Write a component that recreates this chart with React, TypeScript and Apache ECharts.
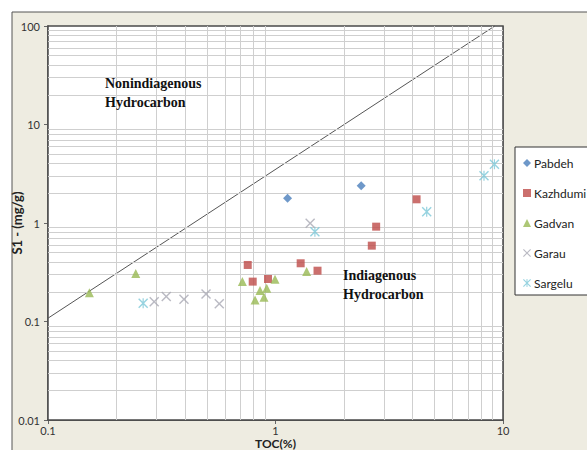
import React, { useEffect, useRef } from "react";
import * as echarts from "echarts";

// TOC (%) vs S1 (mg/g) by formation
const pabdeh: [number, number][] = [
  [1.13, 1.78],
  [2.38, 2.39],
];
const kazhdumi: [number, number][] = [
  [0.755, 0.375],
  [0.794, 0.254],
  [0.927, 0.27],
  [1.29, 0.39],
  [1.53, 0.328],
  [2.65, 0.589],
  [2.77, 0.918],
  [4.17, 1.74],
];
const gadvan: [number, number][] = [
  [0.152, 0.196],
  [0.243, 0.308],
  [0.715, 0.254],
  [0.813, 0.165],
  [0.855, 0.206],
  [0.89, 0.176],
  [0.915, 0.217],
  [0.995, 0.268],
  [1.37, 0.321],
];
const garau: [number, number][] = [
  [0.293, 0.159],
  [0.331, 0.179],
  [0.396, 0.168],
  [0.495, 0.19],
  [0.566, 0.151],
  [1.42, 0.994],
];
const sargelu: [number, number][] = [
  [0.262, 0.153],
  [1.49, 0.817],
  [4.62, 1.3],
  [8.25, 3.02],
  [9.17, 3.95],
];
// dividing line between the two hydrocarbon fields
const boundary: [number, number][] = [
  [0.095, 0.1],
  [9.2, 100],
];

const xRange = [0.1, 10];
const yRange = [0.01, 100];

const crossPath =
  "path://M0,1 L1,0 L5,4 L9,0 L10,1 L6,5 L10,9 L9,10 L5,6 L1,10 L0,9 L4,5 Z";
const starPath =
  "path://M0,1 L1,0 L5,4 L9,0 L10,1 L6,5 L10,9 L9,10 L5,6 L1,10 L0,9 L4,5 Z M4.4,0 L5.6,0 L5.6,10 L4.4,10 Z";

// minor grid positions: 2..9 within each decade
function minorValues(lo: number, hi: number): number[] {
  const out: number[] = [];
  for (let d = lo; d < hi; d *= 10) {
    for (let k = 2; k <= 9; k++) out.push(Number((d * k).toPrecision(3)));
  }
  return out;
}

const tickFont = { fontFamily: "Lato, 'Liberation Sans', sans-serif", fontSize: 11, color: "#333" };

export default function App() {
  const ref = useRef<HTMLDivElement>(null);

  useEffect(() => {
    if (!ref.current) return;
    const chart = echarts.init(ref.current, null, { renderer: "svg" });

    const minorX = minorValues(xRange[0], xRange[1]);
    const minorY = minorValues(yRange[0], yRange[1]);

    chart.setOption({
      animation: false,
      backgroundColor: "#ffffff",
      grid: {
        left: 48,
        top: 26,
        width: 455,
        height: 394,
        containLabel: false,
        outerBoundsMode: "none",
        show: true,
        backgroundColor: "#ffffff",
        borderColor: "#4a4a4a",
        borderWidth: 1.5,
        z: 1,
      },
      graphic: [
        {
          type: "rect",
          z: -10,
          shape: { x: 12, y: 12, width: 600, height: 460 },
          style: { fill: "#EEECE1", stroke: "#555", lineWidth: 1 },
        },
        {
          type: "text",
          z: 100,
          left: 105,
          top: 74,
          style: {
            text: "Nonindiagenous\nHydrocarbon",
            font: "bold 14px 'Liberation Serif', serif",
            fill: "#111",
            lineHeight: 19,
          },
        },
        {
          type: "text",
          z: 100,
          left: 343,
          top: 266,
          style: {
            text: "Indiagenous\nHydrocarbon",
            font: "bold 14px 'Liberation Serif', serif",
            fill: "#111",
            lineHeight: 19,
          },
        },
      ],
      legend: {
        orient: "vertical",
        left: 515,
        top: 147,
        padding: [9, 40, 5, 8],
        itemGap: 16,
        itemWidth: 8,
        itemHeight: 8,
        itemStyle: { borderWidth: 0 },
        backgroundColor: "#ffffff",
        borderColor: "#333",
        borderWidth: 1,
        textStyle: {
          fontFamily: "Lato, 'Liberation Sans', sans-serif",
          fontSize: 12,
          color: "#222",
          lineHeight: 14,
          padding: [0, 0, 0, -2],
        },
        data: [
          { name: "Pabdeh", icon: "diamond" },
          { name: "Kazhdumi", icon: "rect" },
          { name: "Gadvan", icon: "triangle" },
          { name: "Garau", icon: crossPath },
          { name: "Sargelu", icon: starPath },
        ],
      },
      xAxis: {
        type: "log",
        logBase: 10,
        min: xRange[0],
        max: xRange[1],
        name: "TOC(%)",
        nameLocation: "middle",
        nameGap: 17,
        nameMoveOverlap: false,
        nameTextStyle: {
          fontFamily: "Lato, 'Liberation Sans', sans-serif",
          fontSize: 12,
          lineHeight: 12,
          fontWeight: "bold",
          color: "#222",
        },
        axisLine: { show: true, lineStyle: { color: "#4a4a4a", width: 1.5 } },
        axisTick: { show: true, inside: false, length: 4, lineStyle: { color: "#666" } },
        axisLabel: { ...tickFont, margin: 4, lineHeight: 12, formatter: (v: number) => String(v) },
        splitLine: { show: true, lineStyle: { color: "#9a9a9a", width: 1 } },
      },
      yAxis: {
        type: "log",
        logBase: 10,
        min: yRange[0],
        max: yRange[1],
        name: "S1 - (mg/g)",
        nameLocation: "middle",
        nameGap: 25,
        nameMoveOverlap: false,
        nameTextStyle: {
          fontFamily: "Lato, 'Liberation Sans', sans-serif",
          fontSize: 13,
          fontWeight: "bold",
          color: "#222",
        },
        axisLine: { show: true, lineStyle: { color: "#4a4a4a", width: 1.5 } },
        axisTick: { show: true, inside: false, length: 4, lineStyle: { color: "#666" } },
        axisLabel: { ...tickFont, margin: 8, formatter: (v: number) => String(v) },
        splitLine: { show: true, lineStyle: { color: "#9a9a9a", width: 1 } },
      },
      series: [
        {
          name: "minor-grid",
          type: "scatter",
          data: [],
          silent: true,
          z: 1,
          markLine: {
            silent: true,
            symbol: ["none", "none"],
            label: { show: false },
            lineStyle: { color: "#cfcfcf", width: 1, type: "solid" },
            data: [
              ...minorX.map((v) => ({ xAxis: v })),
              ...minorY.map((v) => ({ yAxis: v })),
            ],
          },
        },
        {
          name: "boundary",
          type: "line",
          data: boundary,
          clip: false,
          symbol: "none",
          silent: true,
          z: 2,
          lineStyle: { color: "#555", width: 1 },
        },
        {
          name: "Pabdeh",
          type: "scatter",
          data: pabdeh,
          symbol: "diamond",
          symbolSize: 9,
          z: 5,
          itemStyle: { color: "#4A7EBB" },
        },
        {
          name: "Kazhdumi",
          type: "scatter",
          data: kazhdumi,
          symbol: "rect",
          symbolSize: 8,
          z: 5,
          itemStyle: { color: "#BE4B48" },
        },
        {
          name: "Gadvan",
          type: "scatter",
          data: gadvan,
          symbol: "triangle",
          symbolSize: 9,
          z: 5,
          itemStyle: { color: "#98B954" },
        },
        {
          name: "Garau",
          type: "scatter",
          data: garau,
          symbol: crossPath,
          symbolSize: 10,
          z: 5,
          itemStyle: { color: "#A9A9B4" },
        },
        {
          name: "Sargelu",
          type: "scatter",
          data: sargelu,
          symbol: starPath,
          symbolSize: 10,
          z: 5,
          itemStyle: { color: "#7DC8D8" },
        },
      ],
    });

    return () => chart.dispose();
  }, []);

  return (
    <div
      ref={ref}
      style={{ position: "fixed", left: 0, top: 0, width: 587, height: 450 }}
    />
  );
}
